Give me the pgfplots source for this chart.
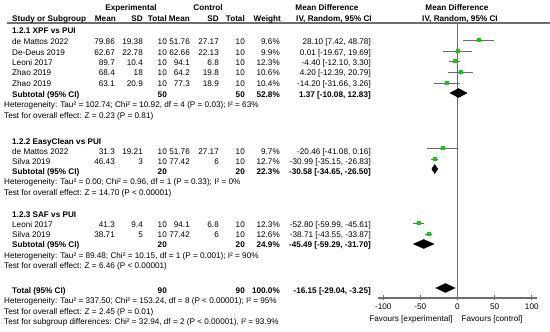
\documentclass[border=0pt]{standalone}
\usepackage{pgfplots}
\pgfplotsset{compat=1.18}
\usepackage{pgfplotstable}
\usepackage{fontspec}
\setmainfont{Liberation Sans}
\definecolor{fgreen}{RGB}{0,215,0}
\definecolor{cigray}{RGB}{105,105,105}
\definecolor{axgray}{RGB}{110,110,110}
\newcommand{\fs}{\fontsize{8.2}{9.5}\selectfont}

% forest rows: y is minus the row's vertical position
\pgfplotstableread{
y    md     lo      hi
-40  28.10  7.42    48.78
-51  0.01   -19.67  19.69
-61  -4.40  -12.10  3.30
-72  4.20   -12.39  20.79
-83  -14.20 -31.66  3.26
-148 -20.46 -41.08  0.16
-159 -30.99 -35.15  -26.83
-223 -52.80 -59.99  -45.61
-234 -38.71 -43.55  -33.87
}\studies

\newcommand{\tl}[3]{\node[anchor=base west,inner sep=0pt,font=\fs] at (#1,#2+3) {#3};}
\newcommand{\tr}[3]{\node[anchor=base east,inner sep=0pt,font=\fs] at (#1,#2+3) {#3};}
\newcommand{\tc}[3]{\node[anchor=base,inner sep=0pt,font=\fs] at (#1,#2+3) {#3};}
\newcommand{\row}[8]{%
 \tl{12}{#1}{#2}\tr{115}{#1}{#3}\tr{143}{#1}{#4}\tr{167}{#1}{10}%
 \tr{190}{#1}{#5}\tr{219}{#1}{#6}\tr{245}{#1}{10}\tr{280}{#1}{#7}\tr{371}{#1}{#8}}
\newcommand{\sub}[5]{%
 \tl{12}{#1}{\bfseries #2}\tr{167}{#1}{\bfseries #3}\tr{245}{#1}{\bfseries #3}%
 \tr{280}{#1}{\bfseries #4}\tr{371}{#1}{\bfseries #5}}

\begin{document}
\begin{tikzpicture}
\useasboundingbox (0,0) rectangle (550bp,332bp);
\begin{axis}[
  at={(378bp,34bp)}, anchor=south west, scale only axis,
  width=159bp, height=276bp,
  xmin=-107, xmax=107, ymin=-298, ymax=-22,
  axis x line*=bottom, axis y line=none,
  x axis line style={axgray, line width=1.2bp},
  xtick={-100,-50,0,50,100},
  tick align=center, major tick length=5bp,
  every tick/.style={axgray, line width=0.8bp},
  xticklabel style={font=\fs, inner sep=0pt, yshift=-3bp},
  /pgf/number format/assume math mode=true,
  clip=false,
]
\addplot[axgray, line width=0.8bp] coordinates {(0,-23) (0,-298)};
\addplot[only marks, mark=square*, mark options={fgreen, draw=fgreen}, mark size=1.5bp,
  error bars/.cd, x dir=both, x explicit, error mark=none,
  error bar style={cigray, line width=0.9bp}]
  table[x=md, y=y, x error plus expr=\thisrow{hi}-\thisrow{md},
        x error minus expr=\thisrow{md}-\thisrow{lo}] \studies;
\addplot[fill=black, draw=black] coordinates {(-10.08,-93) (1.37,-88.5) (12.83,-93) (1.37,-97.5)} -- cycle;
\addplot[fill=black, draw=black] coordinates {(-34.65,-169) (-30.58,-164.5) (-26.50,-169) (-30.58,-173.5)} -- cycle;
\addplot[fill=black, draw=black] coordinates {(-59.29,-244) (-45.49,-239.5) (-31.70,-244) (-45.49,-248.5)} -- cycle;
\addplot[fill=black, draw=black] coordinates {(-29.04,-288) (-16.15,-283.5) (-3.25,-288) (-16.15,-292.5)} -- cycle;
\end{axis}

\begin{scope}[x=1bp,y=-1bp,shift={(0,-332)}]
\draw[axgray, line width=1.2bp] (7,23) -- (550,23);
% headers
\tc{131}{7}{\bfseries Experimental}
\tc{208}{7}{\bfseries Control}
\tc{327}{7}{\bfseries Mean Difference}
\tc{457}{7}{\bfseries Mean Difference}
\tl{12}{18}{\bfseries Study or Subgroup}
\tr{116}{18}{\bfseries Mean}
\tr{143}{18}{\bfseries SD}
\tr{167}{18}{\bfseries Total}
\tr{190}{18}{\bfseries Mean}
\tr{219}{18}{\bfseries SD}
\tr{245}{18}{\bfseries Total}
\tr{281}{18}{\bfseries Weight}
\tc{334}{18}{\bfseries IV, Random, 95\% CI}
\tc{460}{18}{\bfseries IV, Random, 95\% CI}
% section 1
\tl{12}{30}{\bfseries 1.2.1 XPF vs PUI}
\row{41}{de Mattos 2022}{79.86}{19.38}{51.76}{27.17}{9.6\%}{28.10 [7.42, 48.78]}
\row{52}{De-Deus 2019}{62.67}{22.78}{62.66}{22.13}{9.9\%}{0.01 [-19.67, 19.69]}
\row{62}{Leoni 2017}{89.7}{10.4}{94.1}{6.8}{12.3\%}{-4.40 [-12.10, 3.30]}
\row{72.5}{Zhao 2019}{68.4}{18}{64.2}{19.8}{10.6\%}{4.20 [-12.39, 20.79]}
\row{83}{Zhao 2019}{63.1}{20.9}{77.3}{18.9}{10.4\%}{-14.20 [-31.66, 3.26]}
\sub{94}{Subtotal (95\% CI)}{50}{52.8\%}{1.37 [-10.08, 12.83]}
\tl{4}{104}{Heterogeneity: Tau² = 102.74; Chi² = 10.92, df = 4 (P = 0.03); I² = 63\%}
\tl{4}{115}{Test for overall effect: Z = 0.23 (P = 0.81)}
% section 2
\tl{12}{141.5}{\bfseries 1.2.2 EasyClean vs PUI}
\row{151}{de Mattos 2022}{31.3}{19.21}{51.76}{27.17}{9.7\%}{-20.46 [-41.08, 0.16]}
\row{161}{Silva 2019}{46.43}{3}{77.42}{6}{12.7\%}{-30.99 [-35.15, -26.83]}
\sub{171}{Subtotal (95\% CI)}{20}{22.3\%}{-30.58 [-34.65, -26.50]}
\tl{4}{181.5}{Heterogeneity: Tau² = 0.00; Chi² = 0.96, df = 1 (P = 0.33); I² = 0\%}
\tl{4}{192}{Test for overall effect: Z = 14.70 (P < 0.00001)}
% section 3
\tl{12}{214.5}{\bfseries 1.2.3 SAF vs PUI}
\row{224}{Leoni 2017}{41.3}{9.4}{94.1}{6.8}{12.3\%}{-52.80 [-59.99, -45.61]}
\row{234}{Silva 2019}{38.71}{5}{77.42}{6}{12.6\%}{-38.71 [-43.55, -33.87]}
\sub{244.5}{Subtotal (95\% CI)}{20}{24.9\%}{-45.49 [-59.29, -31.70]}
\tl{4}{255}{Heterogeneity: Tau² = 89.48; Chi² = 10.15, df = 1 (P = 0.001); I² = 90\%}
\tl{4}{265}{Test for overall effect: Z = 6.46 (P < 0.00001)}
% total
\sub{290}{Total (95\% CI)}{90}{100.0\%}{-16.15 [-29.04, -3.25]}
\tl{4}{300}{Heterogeneity: Tau² = 337.50; Chi² = 153.24, df = 8 (P < 0.00001); I² = 95\%}
\tl{4}{311}{Test for overall effect: Z = 2.45 (P = 0.01)}
\tl{4}{321}{Test for subgroup differences: Chi² = 32.94, df = 2 (P < 0.00001), I² = 93.9\%}
% favours
\tc{411}{318}{Favours [experimental]}
\tc{492}{318}{Favours [control]}
\end{scope}
\end{tikzpicture}
\end{document}
